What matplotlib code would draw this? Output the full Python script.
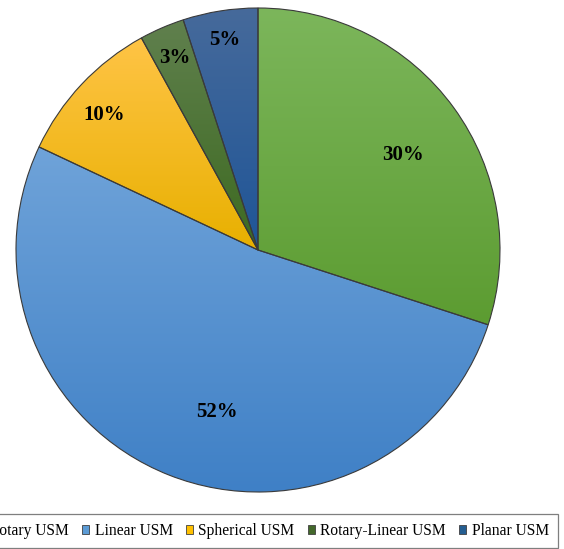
import numpy as np
import matplotlib
matplotlib.use('Agg')
import matplotlib.pyplot as plt
from matplotlib.patches import Patch

labels = ['Rotary USM', 'Linear USM', 'Spherical USM', 'Rotary-Linear USM', 'Planar USM']
values = [30, 52, 10, 3, 5]
pct_labels = ['30%', '52%', '10%', '3%', '5%']

# base colours (legend) and gradient ends for each slice
base_colors = ['#70AD47', '#5B9BD5', '#FFC000', '#43682B', '#255E91']
top_colors = [(124, 182, 91), (111, 163, 217), (255, 196, 70), (96, 128, 78), (70, 106, 155)]
bottom_colors = [(92, 156, 49), (63, 128, 198), (232, 176, 0), (61, 106, 32), (31, 85, 151)]

# label positions in pixels (x, y from top)
label_pos = [(403, 155), (217, 412), (104, 115), (175, 58), (225, 40)]

W, H = 564, 549
cx, cy, R = 258, H - 250, 242

fig = plt.figure(figsize=(W / 100, H / 100), dpi=100)
ax = fig.add_axes([0, 0, 1, 1])

wedges, _ = ax.pie(values, startangle=90, counterclock=False, center=(cx, cy), radius=R,
                   wedgeprops=dict(edgecolor='#3a3a3a', linewidth=0.8, facecolor='none'))

for i, w in enumerate(wedges):
    w.set_zorder(3)
    ang = np.radians(np.linspace(w.theta1, w.theta2, 200))
    xs = np.concatenate([[cx], cx + R * np.cos(ang)])
    ys = np.concatenate([[cy], cy + R * np.sin(ang)])
    t = np.linspace(0, 1, 256)[:, None]
    top = np.array(top_colors[i]) / 255
    bot = np.array(bottom_colors[i]) / 255
    grad = (top * (1 - t) + bot * t)[:, None, :]
    im = ax.imshow(grad, extent=(xs.min(), xs.max(), ys.min(), ys.max()),
                   origin='upper', aspect='auto', interpolation='bilinear', zorder=2)
    im.set_clip_path(w)

for (x, y), s in zip(label_pos, pct_labels):
    ax.text(x, H - y, s, ha='center', va='center', fontsize=15, fontweight='bold',
            family='Liberation Serif', zorder=5)

ax.set_xlim(0, W)
ax.set_ylim(0, H)
ax.set_aspect('auto')
ax.axis('off')

handles = [Patch(facecolor=c, edgecolor='#404040', linewidth=0.6) for c in base_colors]
leg = fig.legend(handles, labels, ncol=5, loc='center right',
                 bbox_to_anchor=(558 / W, (H - 531) / H),
                 prop={'family': 'Liberation Serif', 'size': 11.2},
                 handlelength=0.45, handleheight=0.45, handletextpad=0.35,
                 columnspacing=0.85, borderpad=0.6, borderaxespad=0,
                 fancybox=False, framealpha=1)
leg.get_frame().set_edgecolor('#7f7f7f')
leg.get_frame().set_linewidth(0.9)

fig.savefig('out.png', dpi=100)
